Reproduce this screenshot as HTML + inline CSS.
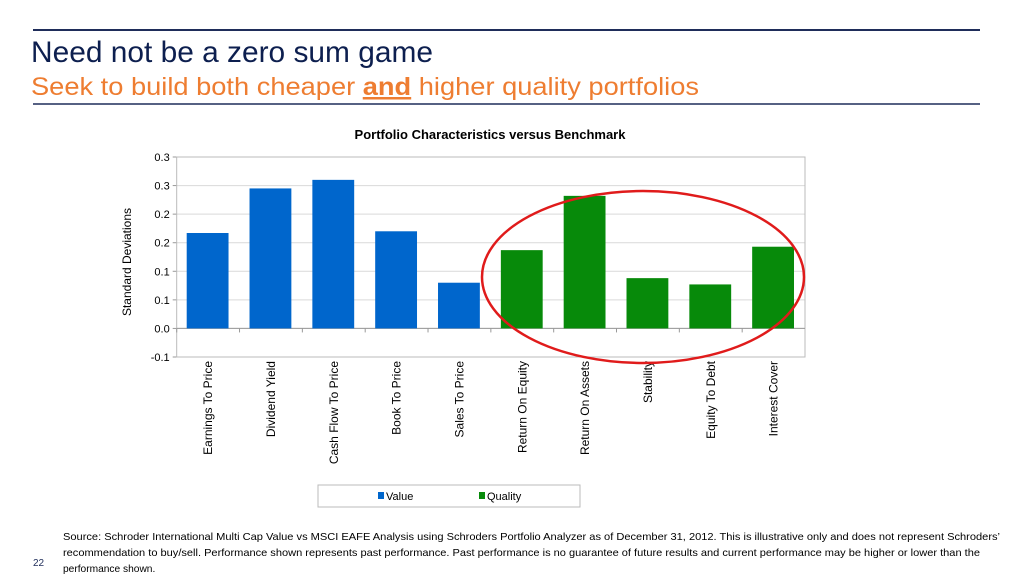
<!DOCTYPE html>
<html><head><meta charset="utf-8"><style>
html,body{margin:0;padding:0;background:#fff;}
svg{display:block;font-family:"Liberation Sans",Arial,sans-serif;}
</style></head><body>
<svg id="s" width="1024" height="576" viewBox="0 0 1024 576">
<line x1="33" y1="30" x2="980" y2="30" stroke="#1f2d5a" stroke-width="2"/>
<text x="31" y="62" font-size="30" fill="#0d1f4f" textLength="402" lengthAdjust="spacingAndGlyphs">Need not be a zero sum game</text>
<text x="31" y="95" font-size="25" fill="#ee7d31" textLength="668" lengthAdjust="spacingAndGlyphs">Seek to build both cheaper <tspan font-weight="bold" text-decoration="underline">and</tspan> higher quality portfolios</text>
<line x1="33" y1="104" x2="980" y2="104" stroke="#1f2d5a" stroke-width="1.5"/>
<text x="490" y="139" font-size="13" font-weight="bold" text-anchor="middle" fill="#000">Portfolio Characteristics versus Benchmark</text>
<text transform="translate(131,262) rotate(-90)" font-size="12" text-anchor="middle" fill="#000">Standard Deviations</text>
<g id="chart"></g>
<ellipse cx="643" cy="277" rx="161" ry="86" fill="none" stroke="#e01b1b" stroke-width="2.5"/>
<rect x="318" y="485" width="262" height="22" fill="#fff" stroke="#bbb"/>
<g><rect x="378" y="492" width="6" height="7" fill="#0066cc"/><text x="386" y="500" font-size="11">Value</text></g>
<g><rect x="479" y="492" width="6" height="7" fill="#078a0a"/><text x="487" y="500" font-size="11">Quality</text></g>
<g font-size="10.2" fill="#000">
<text x="63" y="540" textLength="937" lengthAdjust="spacingAndGlyphs">Source: Schroder International Multi Cap Value vs MSCI EAFE Analysis using Schroders Portfolio Analyzer as of December 31, 2012. This is illustrative only and does not represent Schroders’</text>
<text x="63" y="556" textLength="917" lengthAdjust="spacingAndGlyphs">recommendation to buy/sell. Performance shown represents past performance. Past performance is no guarantee of future results and current performance may be higher or lower than the</text>
<text x="63" y="572">performance shown.</text>
</g>
<text x="33" y="566" font-size="10" fill="#1f2d5a">22</text>
</svg>
<script>
const categories=["Earnings To Price","Dividend Yield","Cash Flow To Price","Book To Price","Sales To Price","Return On Equity","Return On Assets","Stability","Equity To Debt","Interest Cover"];
const values=[0.167,0.245,0.260,0.170,0.080,0.137,0.232,0.088,0.077,0.143];
const seriesOf=["Value","Value","Value","Value","Value","Quality","Quality","Quality","Quality","Quality"];
const tickValues=[0.30,0.25,0.20,0.15,0.10,0.05,0.00,-0.05];
const tickLabels=["0.3","0.3","0.2","0.2","0.1","0.1","0.0","-0.1"];
const colors={Value:"#0066cc",Quality:"#078a0a"};
const L=176.7,R=805,T=157,B=357,ymax=0.30,ymin=-0.05;
const y=v=>T+(ymax-v)/(ymax-ymin)*(B-T);
const bw=(R-L)/categories.length;
const x=i=>L+i*bw;
const g=document.getElementById('chart');
const NS="http://www.w3.org/2000/svg";
function mk(t,a){const e=document.createElementNS(NS,t);for(const k in a)e.setAttribute(k,a[k]);g.appendChild(e);return e;}
tickValues.forEach((v,i)=>{
  const ln=mk('line',{x1:L,x2:R,y1:y(v),y2:y(v),stroke:"#d9d9d9","stroke-width":1});
  
  
  const tk=mk('line',{x1:L-4,x2:L,y1:y(v),y2:y(v),stroke:"#999"});
  
  
  const t=mk('text',{x:L-7,y:y(v)+4,"font-size":11,"text-anchor":"end",fill:"#000"});
  t.textContent=tickLabels[i];
  
  
});
const fr=mk('rect',{x:L,y:T,width:R-L,height:B-T,fill:"none",stroke:"#bbb"});


const za=mk('line',{x1:L,x2:R,y1:y(0),y2:y(0),stroke:"#999"});


categories.forEach((c,i)=>{
  const v=values[i];
  const b=mk('rect',{x:x(i)+10,y:Math.min(y(v),y(0)),width:bw-21,height:Math.abs(y(0)-y(v)),fill:colors[seriesOf[i]]});
  
  
  const tk=mk('line',{x1:x(i),x2:x(i),y1:y(0),y2:y(0)+4,stroke:"#999"});
  
  
  const cx=x(i)+bw/2+4;
  const t=mk('text',{transform:`translate(${cx},361) rotate(-90)`,"font-size":12,"text-anchor":"end",fill:"#000"});
  t.textContent=c;
  
  
});
</script>
</body></html>
